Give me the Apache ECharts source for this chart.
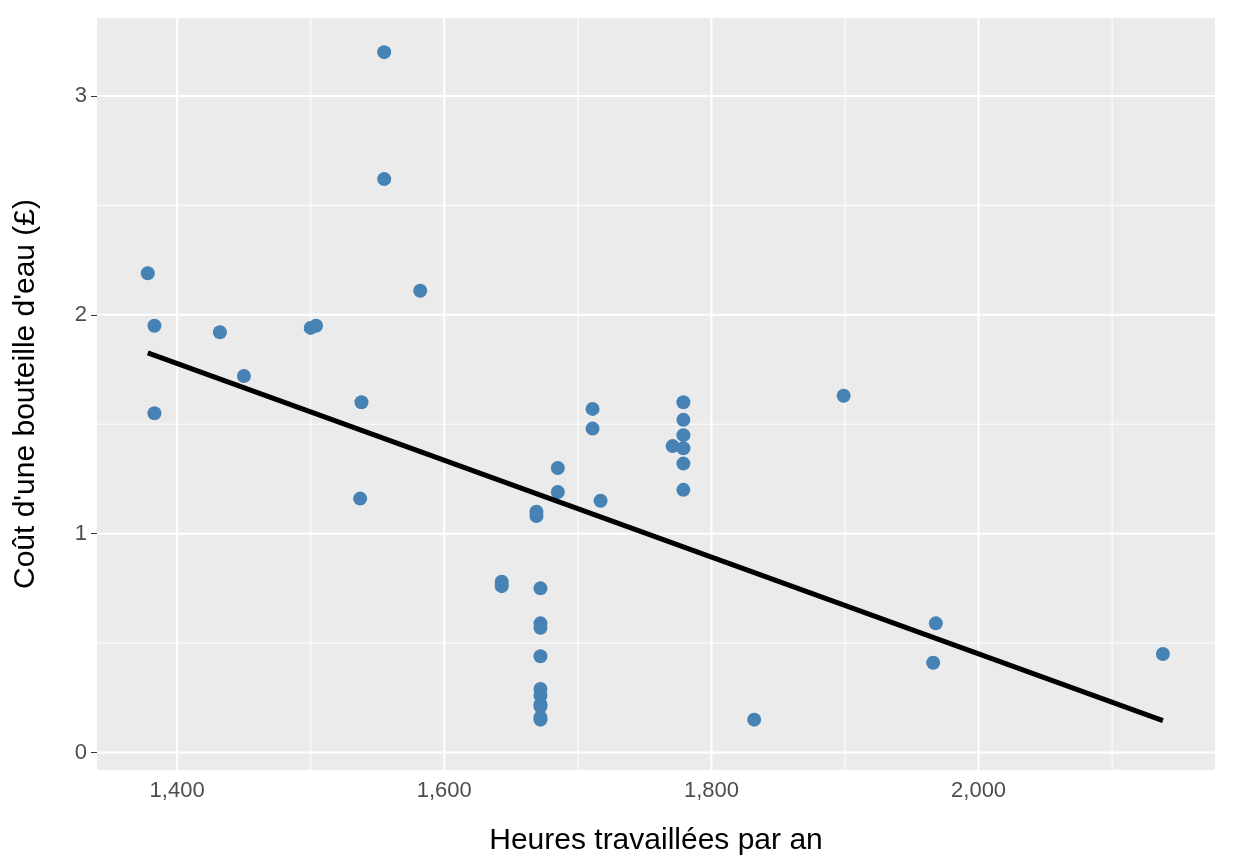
<!DOCTYPE html>
<html><head><meta charset="utf-8">
<script src="https://cdn.jsdelivr.net/npm/echarts@6/dist/echarts.min.js"></script>
<style>html,body{margin:0;padding:0;background:#fff}#c{width:1234px;height:864px}</style>
</head><body><div id="c"></div>
<script>
const hours = [1378,1383,1383,1432,1450,1500,1504,1538,1537,1555,1555,1582,1643,1643,1669,1669,1672,1672,1672,1672,1672,1672,1672,1672,1672,1672,1685,1685,1711,1711,1717,1771,1779,1779,1779,1779,1779,1779,1832,1899,1966,1968,2138];
const cost = [2.19,1.95,1.55,1.92,1.72,1.94,1.95,1.60,1.16,3.20,2.62,2.11,0.78,0.76,1.08,1.10,0.75,0.59,0.57,0.44,0.29,0.26,0.22,0.21,0.16,0.15,1.30,1.19,1.57,1.48,1.15,1.40,1.60,1.52,1.45,1.39,1.32,1.20,0.15,1.63,0.41,0.59,0.45];
const fitX = [1378,2138];
const fitY = [1.826,0.146];
const xTicks = [1400,1600,1800,2000];
const xMinor = [1500,1700,1900,2100];
const yTicks = [0,1,2,3];
const yMinor = [0.5,1.5,2.5];
const X0=1340,X1=2177,Y0=-0.08,Y1=3.356;
const chart = echarts.init(document.getElementById('c'));
const lab = {color:'#4d4d4d',fontSize:22,fontFamily:'Liberation Sans'};
const nm = {color:'#000',fontSize:30,fontFamily:'Liberation Sans'};
const gl = (pts,w)=>({type:'line',data:pts,symbol:'none',silent:true,lineStyle:{color:'#fff',width:w},z:1});
const series = [];
yMinor.forEach(v=>series.push(gl([[X0,v],[X1,v]],1)));
yTicks.forEach(v=>series.push(gl([[X0,v],[X1,v]],2)));
xMinor.forEach(v=>series.push(gl([[v,Y0],[v,Y1]],1)));
xTicks.forEach(v=>series.push(gl([[v,Y0],[v,Y1]],2)));
series.push({type:'scatter',data:hours.map((h,i)=>[h,cost[i]]),symbolSize:14,itemStyle:{color:'#4682B4',opacity:1},z:3});
series.push({type:'line',data:fitX.map((x,i)=>[x,fitY[i]]),symbol:'none',lineStyle:{color:'#000',width:5},z:4});
chart.setOption({
  backgroundColor:'#fff',
  grid:{left:97,right:19,top:18,bottom:94,backgroundColor:'#EBEBEB',show:true,borderWidth:0},
  xAxis:{type:'value',min:X0,max:X1,
    name:'Heures travaillées par an',nameLocation:'middle',nameGap:56,nameTextStyle:nm,
    axisLine:{show:false},axisTick:{show:true,length:6,lineStyle:{color:'#333'},customValues:xTicks},
    axisLabel:Object.assign({margin:10,customValues:xTicks},lab),
    splitLine:{show:false}},
  yAxis:{type:'value',min:Y0,max:Y1,
    name:"Coût d'une bouteille d'eau (£)",nameLocation:'middle',nameGap:56,nameTextStyle:nm,
    axisLine:{show:false},axisTick:{show:true,length:6,lineStyle:{color:'#333'},customValues:yTicks},
    axisLabel:Object.assign({margin:10,customValues:yTicks},lab),
    splitLine:{show:false}},
  series
});
</script></body></html>
